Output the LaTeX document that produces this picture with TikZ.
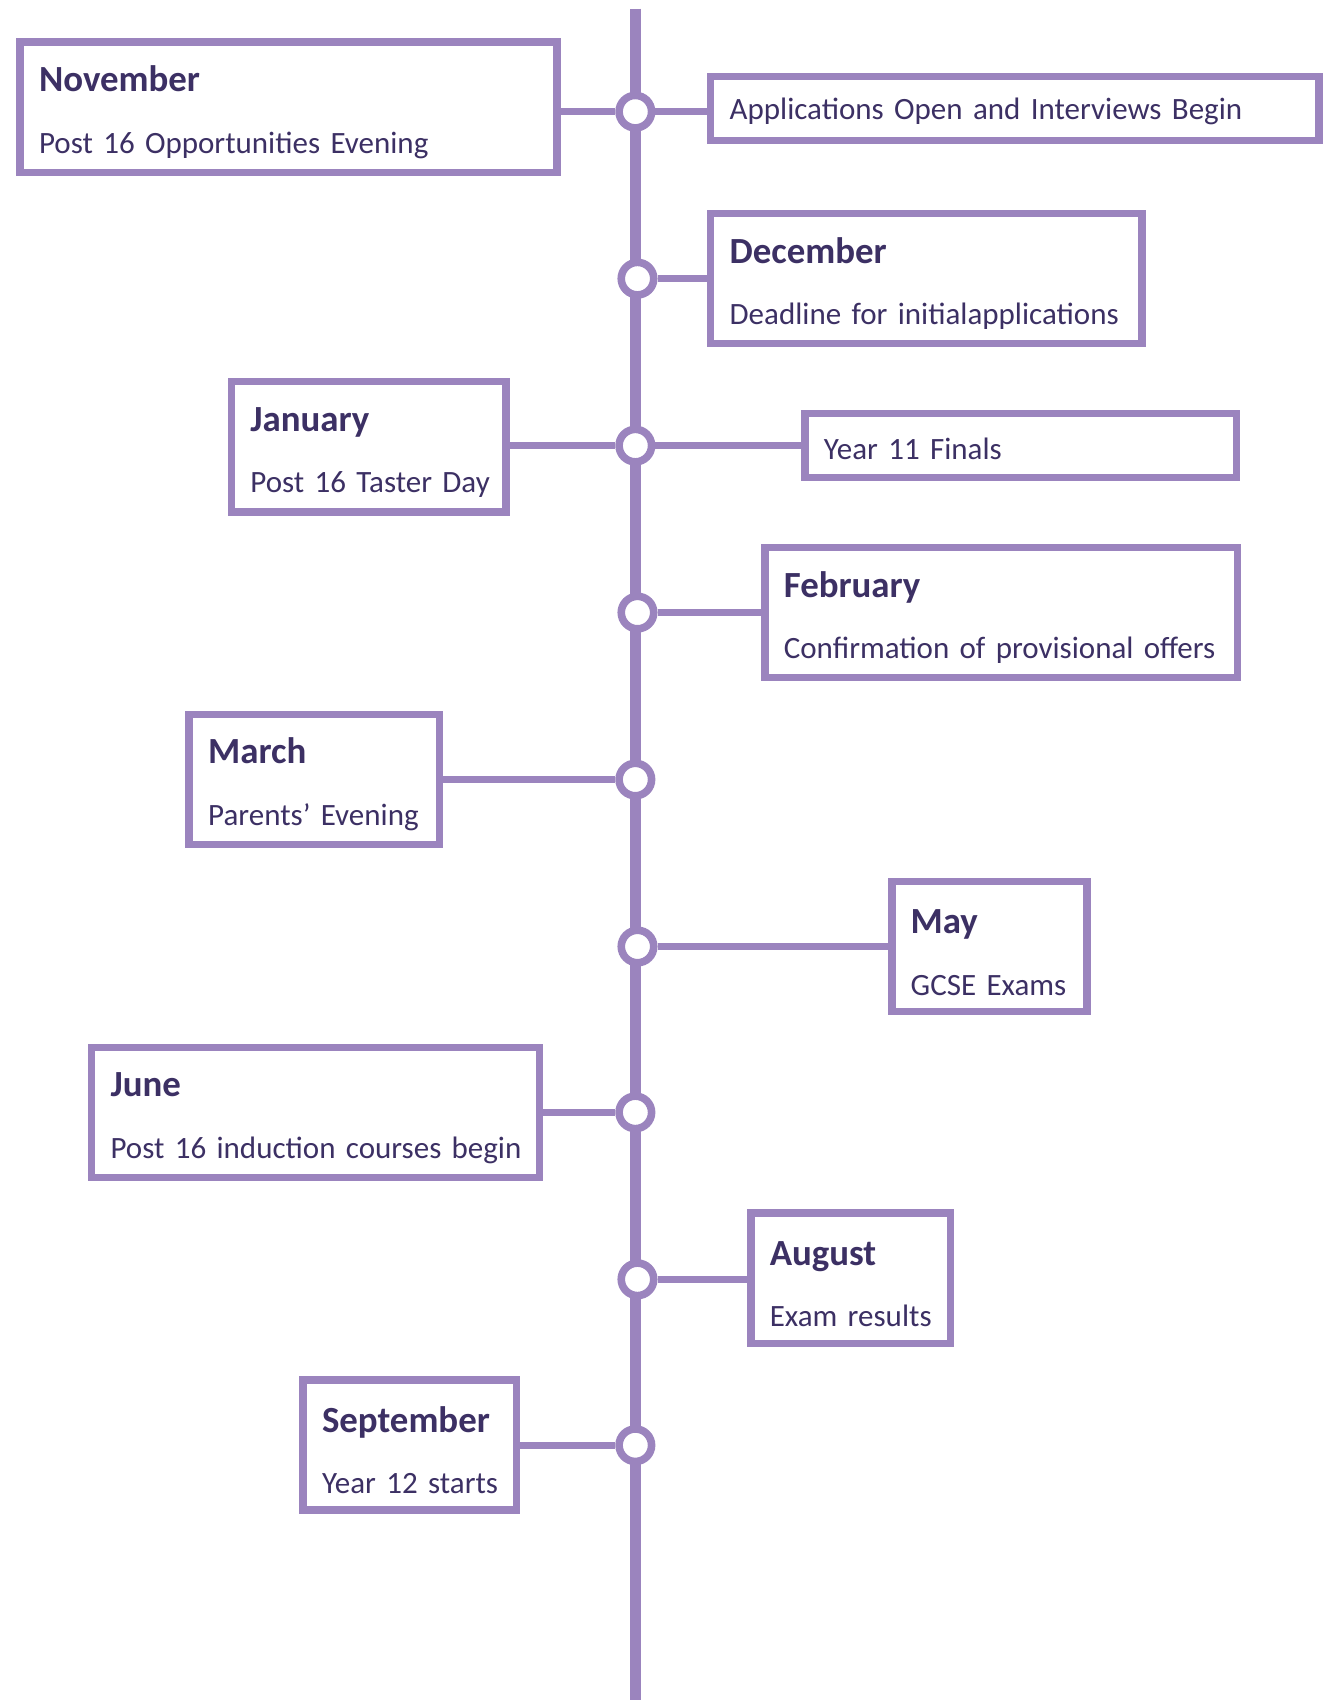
\documentclass[tikz,border=0pt]{standalone}
\usepackage{fontspec}
\setmainfont{Carlito}
\usetikzlibrary{positioning}
\definecolor{lilac}{RGB}{155,132,190}
\definecolor{ink}{RGB}{60,48,100}
\newcommand{\when}[2]{\rule{0pt}{16.5pt}{\fontsize{17}{20}\selectfont\bfseries #1}\\[11.2pt]\mbox{#2}}
\newcommand{\only}[1]{\rule{0pt}{13pt}\mbox{#1}}

\begin{document}
\begin{tikzpicture}[x=0.5pt,y=-0.5pt]
		\tikzstyle{ring}=[circle,draw=lilac,line width=3.5pt,fill=white,minimum size=15pt,inner sep=0pt];
		\tikzstyle{card}=[rectangle,draw=lilac,line width=3.5pt,fill=white,text=ink,align=left,
			inner xsep=8.75pt,inner ysep=0pt,minimum height=60pt,font=\fontsize{14.3}{17.2}\selectfont];
		\tikzstyle{slim}=[card,minimum height=29.5pt];
		\tikzstyle{link}=[draw=lilac,line width=3.25pt];
		\useasboundingbox(0,0)rectangle(1230,1568);
		\coordinate(top)at(586,8);
		\coordinate(bot)at(586,1568);
		\draw[lilac,line width=5pt](top)--(bot);

		\node[ring](m1)at(586,103){};
		\node[card,anchor=east,text width=230pt](nov)at(517,99){\when{November}{Post 16 Opportunities Evening}};
		\node[slim,anchor=west,text width=263pt](apps)at(652,100){\only{Applications Open and Interviews Begin}};
		\draw[link](m1.west)--(m1-|nov.east)(m1.east)--(m1-|apps.west);

		\node[ring](m2)at(588,257){};
		\node[card,anchor=west,text width=181.5pt](dec)at(652,257){\when{December}{Deadline for initialapplications}};
		\draw[link](m2)--(dec);

		\node[ring](m3)at(586,411){};
		\node[card,anchor=east,text width=109pt](jan)at(470,412){\when{January}{Post 16 Taster Day}};
		\node[slim,anchor=west,text width=181.5pt](y11)at(739,411){\only{Year 11 Finals}};
		\draw[link](m3.west)--(m3-|jan.east)(m3)--(y11);

		\node[ring](m4)at(588,565){};
		\node[card,anchor=west,text width=200.5pt](feb)at(702,565){\when{February}{Confirmation of provisional offers}};
		\draw[link](m4)--(feb);

		\node[ring](m5)at(586,719){};
		\node[card,anchor=east,text width=98pt](mar)at(409,719){\when{March}{Parents’ Evening}};
		\draw[link](mar)--(m5);

		\node[ring](m6)at(588,873){};
		\node[card,anchor=west,text width=72.5pt](may)at(819,873){\when{May}{GCSE Exams}};
		\draw[link](m6)--(may);

		\node[ring](m7)at(586,1026){};
		\node[card,anchor=east,text width=189pt](jun)at(501,1026){\when{June}{Post 16 induction courses begin}};
		\draw[link](jun)--(m7);

		\node[ring](m8)at(588,1180){};
		\node[card,anchor=west,text width=74.5pt](aug)at(689,1179){\when{August}{Exam results}};
		\draw[link](m8.east)--(m8-|aug.west);

		\node[ring](m9)at(586,1333){};
		\node[card,anchor=east,text width=81pt](sep)at(480,1333){\when{September}{Year 12 starts}};
		\draw[link](sep)--(m9);
	\end{tikzpicture}
\end{document}
